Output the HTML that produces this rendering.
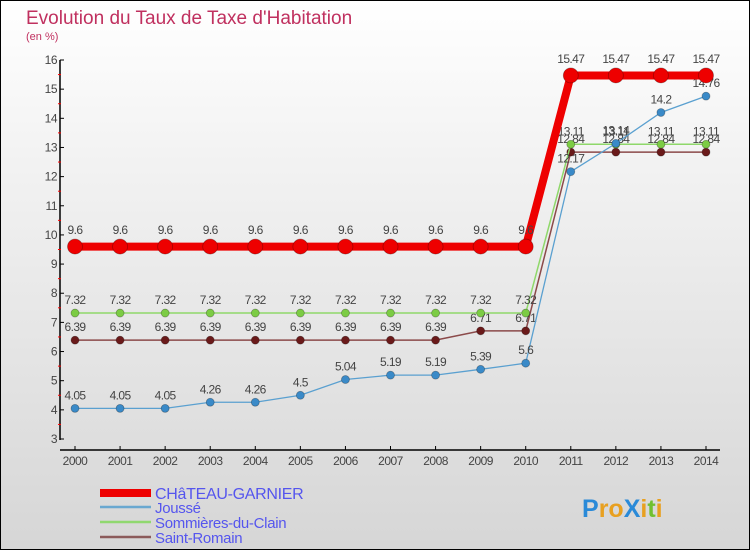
<!DOCTYPE html>
<html><head><meta charset="utf-8"><style>
html,body{margin:0;padding:0}
body{width:750px;height:550px;overflow:hidden;font-family:"Liberation Sans",sans-serif}
#c{position:absolute;left:0;top:0;width:748px;height:548px;border:1px solid #000;background:linear-gradient(#ffffff,#f2f2f2 30%,#d6d6d6)}
</style></head><body>
<div id="c">
<svg id="s" width="750" height="550" style="position:absolute;left:-1px;top:-1px">
<text x="26" y="24" font-size="19" fill="#c0305f">Evolution du Taux de Taxe d'Habitation</text>
<text x="26" y="40" font-size="11" fill="#c0305f">(en %)</text>
</svg>
</div>
<script>
const years=[2000,2001,2002,2003,2004,2005,2006,2007,2008,2009,2010,2011,2012,2013,2014];
const yTicks=[3,4,5,6,7,8,9,10,11,12,13,14,15,16];
const chateau=[9.6,9.6,9.6,9.6,9.6,9.6,9.6,9.6,9.6,9.6,9.6,15.47,15.47,15.47,15.47];
const jousse=[4.05,4.05,4.05,4.26,4.26,4.5,5.04,5.19,5.19,5.39,5.6,12.17,13.14,14.2,14.76];
const sommieres=[7.32,7.32,7.32,7.32,7.32,7.32,7.32,7.32,7.32,7.32,7.32,13.11,13.11,13.11,13.11];
const romain=[6.39,6.39,6.39,6.39,6.39,6.39,6.39,6.39,6.39,6.71,6.71,12.84,12.84,12.84,12.84];
const names=["CHâTEAU-GARNIER","Joussé","Sommières-du-Clain","Saint-Romain"];
const NS="http://www.w3.org/2000/svg";
const s=document.getElementById('s');
const X=i=>75+i*(631/14);
const Y=v=>439-(v-3)*(379/13);
function mk(t,a,p){const e=document.createElementNS(NS,t);for(const k in a)e.setAttribute(k,a[k]);(p||s).appendChild(e);return e;}
let ax=mk('line',{x1:60,y1:60,x2:60,y2:440,stroke:'#000','stroke-width':1.5});


let xx=mk('line',{x1:60,y1:450,x2:720,y2:450,stroke:'#000','stroke-width':1.5});


yTicks.forEach(v=>{
 mk('line',{x1:60,y1:Y(v),x2:64,y2:Y(v),stroke:'#000'});
 if(v<16)mk('line',{x1:58,y1:Y(v+0.5),x2:61,y2:Y(v+0.5),stroke:'#f00'});
 const t=mk('text',{x:57,y:Y(v)+4,'font-size':12,fill:'#444','text-anchor':'end','letter-spacing':'-0.5'});t.textContent=v;
 
 
});
years.forEach((y,i)=>{
 mk('line',{x1:X(i),y1:446,x2:X(i),y2:450,stroke:'#000'});
 const t=mk('text',{x:X(i),y:465,'font-size':12,fill:'#444','text-anchor':'middle','letter-spacing':'-0.5'});t.textContent=y;
 
 
});
function series(d,color,w,r,fill,name){
 const g=mk('g',{});
 
 
 mk('polyline',{points:d.map((v,i)=>X(i)+','+Y(v)).join(' '),fill:'none',stroke:color,'stroke-width':w},g);
 d.forEach((v,i)=>{
  const c=mk('circle',{cx:X(i),cy:Y(v),r:r,fill:fill,stroke:'rgba(0,0,0,0.3)','stroke-width':0.8},g);
  
  
  const t=mk('text',{x:X(i),y:Y(v)-(r+5),'font-size':12,fill:'#444','text-anchor':'middle','letter-spacing':'-0.6'},g);
  t.textContent=v;
 });
}
series(romain,'#8b4a4a',1.5,4,'#6a1a1a','saint-romain-series');
series(sommieres,'#8fd86a',1.5,4,'#7ccc44','sommieres-series');
series(jousse,'#5aa0d0',1.3,4,'#3a8ac8','jousse-series');
series(chateau,'#ee0000',8,7.5,'#ee0000','chateau-garnier-series');
const lc=['#ee0000','#6aa8d0','#90d870','#8b5a5a'],lw=[8,2.5,2.5,2.5],ly=[499,513,528,543];
names.forEach((n,i)=>{
 const g=mk('g',{});
 
 
 mk('line',{x1:100,y1:ly[i]-6,x2:151,y2:ly[i]-6,stroke:lc[i],'stroke-width':lw[i]},g);
 const t=mk('text',{x:155,y:ly[i],'font-size':i==0?16:15,fill:'#5555ee','letter-spacing':'-0.3'},g);t.textContent=n;
});
const lg=mk('text',{x:582,y:517,'font-size':25,'font-weight':'bold'});
lg.innerHTML='<tspan fill="#2a8ad8">P</tspan><tspan fill="#e8a020">ro</tspan><tspan fill="#2a8ad8">X</tspan><tspan fill="#e8a020">i</tspan><tspan fill="#70c030">t</tspan><tspan fill="#e8a020">i</tspan>';


</script>
</body></html>
